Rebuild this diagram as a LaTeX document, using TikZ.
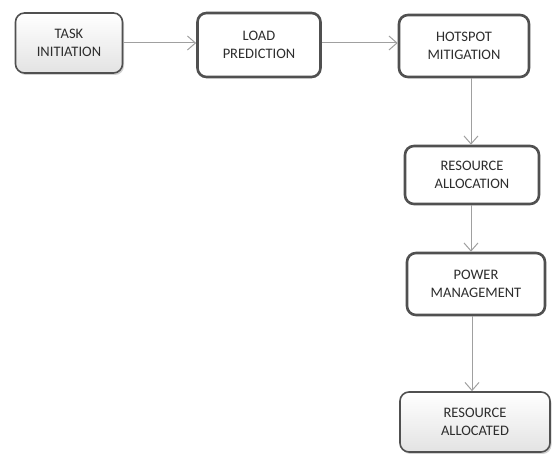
\documentclass[tikz,border=0pt]{standalone}
\usepackage{fontspec}
\setmainfont{Carlito}
\usetikzlibrary{arrows.meta,shadows}
\definecolor{txt}{RGB}{45,45,45}
\definecolor{edge}{RGB}{80,80,80}
\definecolor{conn}{RGB}{160,160,160}
\tikzset{
  procbox/.style={draw=edge, line width=2.6pt, rounded corners=9pt, fill=white,
    align=center, text=txt, font=\fontsize{14.5}{18}\selectfont, inner sep=0pt},
  termbox/.style={draw=edge, line width=1.6pt, rounded corners=9pt,
    top color=white, bottom color=gray!22,
    align=center, text=txt, font=\fontsize{14.5}{18}\selectfont, inner sep=0pt,
    drop shadow={shadow xshift=1.5pt, shadow yshift=-2pt, fill=gray!60, opacity=0.6}},
  flow/.style={draw=conn, line width=1pt, -{Straight Barb[length=8pt,width=14pt,line width=1pt]}}
}
\begin{document}
\begin{tikzpicture}[x=1pt,y=-1pt]
\useasboundingbox (0,0) rectangle (555,454);
\node[termbox, minimum width=107pt, minimum height=60pt] (task) at (69,43) {TASK\\INITIATION};
\node[procbox, minimum width=123pt, minimum height=64pt] (load) at (259,45) {LOAD\\PREDICTION};
\node[procbox, minimum width=130pt, minimum height=62pt] (hot) at (464,46) {HOTSPOT\\MITIGATION};
\node[procbox, minimum width=134pt, minimum height=58pt] (ralloc) at (472,175) {RESOURCE\\ALLOCATION};
\node[procbox, minimum width=138pt, minimum height=62pt] (power) at (476,284) {POWER\\MANAGEMENT};
\node[termbox, minimum width=150pt, minimum height=60pt] (done) at (475,422) {RESOURCE\\ALLOCATED};
\draw[flow] (task.east |- 0,43) -- (load.west |- 0,43);
\draw[flow] (load.east |- 0,43) -- (hot.west |- 0,43);
\draw[flow] (hot.south -| 471,0) -- (ralloc.north -| 471,0);
\draw[flow] (ralloc.south -| 471,0) -- (power.north -| 471,0);
\draw[flow] (power.south -| 472,0) -- (done.north -| 472,0);
\end{tikzpicture}
\end{document}
